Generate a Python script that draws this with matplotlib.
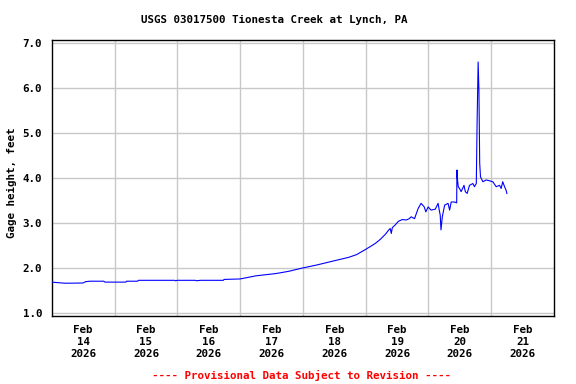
import matplotlib
matplotlib.use("Agg")
import matplotlib.pyplot as plt
import pandas as pd

# Gage height readings, hours after Feb 14 2026 00:00
hours = [0, 5.1, 11.9, 13.0, 14.6, 19.9, 20.3, 28.3, 28.6, 32.8, 33.2, 46.9, 47.3, 48.0,
         54.9, 55.3, 56.8, 65.6, 65.9, 72.0, 78.1, 85.7, 90.6, 95.6, 101.3, 107.0, 113.5,
         116.5, 119.5, 121.8, 123.7, 125.6, 127.5, 129.0, 129.4, 129.8, 130.2, 131.3, 132.5,
         134.0, 135.5, 136.7, 137.4, 138.7, 139.3, 140.1, 141.2, 142.4, 143.0, 143.9, 145.0,
         146.6, 147.7, 148.1, 148.5, 148.8, 149.3, 150.2, 151.5, 152.1, 152.7, 154.0, 154.8,
         154.9, 155.0, 155.4, 155.9, 156.5, 157.6, 158.1, 158.8, 159.7, 161.0, 161.6, 162.3,
         162.6, 163.0, 163.3, 163.6, 163.9, 164.8, 166.1, 167.4, 168.6, 169.9, 171.2, 171.8,
         172.4, 173.1, 173.7, 174.0]
gage_ft = [1.69, 1.665, 1.67, 1.70, 1.71, 1.71, 1.69, 1.69, 1.71, 1.71, 1.73, 1.73, 1.72, 1.73,
           1.73, 1.72, 1.73, 1.73, 1.75, 1.76, 1.83, 1.88, 1.93, 2.00, 2.07, 2.15, 2.24,
           2.30, 2.40, 2.48, 2.55, 2.64, 2.75, 2.86, 2.88, 2.77, 2.90, 2.96, 3.04,
           3.08, 3.07, 3.10, 3.14, 3.10, 3.20, 3.33, 3.44, 3.36, 3.25, 3.36, 3.29,
           3.31, 3.44, 3.30, 3.18, 2.85, 3.14, 3.40, 3.44, 3.29, 3.47, 3.47, 3.45,
           4.18, 4.03, 3.81, 3.77, 3.70, 3.84, 3.70, 3.66, 3.84, 3.88, 3.81, 3.88,
           5.21, 6.58, 5.95, 4.33, 4.03, 3.92, 3.96, 3.94, 3.92, 3.81, 3.84, 3.77,
           3.92, 3.81, 3.73, 3.66]

start = pd.Timestamp("2026-02-14")
times = start + pd.to_timedelta(hours, unit="h")

day_starts = pd.date_range("2026-02-14", "2026-02-22", freq="D")
day_labels = [f"{d:%b}\n{d.day}\n{d:%Y}" for d in day_starts[:-1]]
yticks = [1.0, 2.0, 3.0, 4.0, 5.0, 6.0, 7.0]

plt.rcParams["font.family"] = "DejaVu Sans Mono"
plt.rcParams["font.weight"] = "bold"

fig = plt.figure(figsize=(5.76, 3.84), dpi=100)
ax = fig.add_axes([0.0898, 0.178, 0.872, 0.718])

ax.plot(times, gage_ft, color="#0000ff", lw=0.8, zorder=3)

ax.set_xlim(day_starts[0], day_starts[-1])
ax.set_ylim(0.945, 7.07)

# gridlines at midnight, labels at noon
ax.set_xticks(day_starts[1:-1])
ax.set_xticklabels([])
ax.set_xticks(day_starts[:-1] + pd.Timedelta(hours=12), minor=True)
ax.set_xticklabels(day_labels, minor=True, fontsize=7.8, fontweight="bold")
ax.set_yticks(yticks)
ax.set_yticklabels([f"{v:.1f}" for v in yticks], fontsize=7.8, fontweight="bold")
ax.tick_params(which="both", length=0)
ax.tick_params(axis="x", which="minor", pad=7)
ax.tick_params(axis="y", pad=7)
ax.grid(True, which="major", color="#c8c8c8", lw=1.0)
ax.set_axisbelow(True)
for s in ax.spines.values():
    s.set_color("black")
    s.set_linewidth(1.0)

fig.text(274 / 576, 1 - 19.5 / 384, "USGS 03017500 Tionesta Creek at Lynch, PA",
         ha="center", va="center", fontsize=7.8, fontweight="bold")
fig.text(11.5 / 576, 1 - 183 / 384, "Gage height, feet", rotation=90,
         ha="center", va="center", fontsize=7.8, fontweight="bold")
fig.text(301 / 576, 1 - 375 / 384, "---- Provisional Data Subject to Revision ----",
         ha="center", va="center", fontsize=7.8, fontweight="bold", color="#ff0000")

plt.savefig("out.png", dpi=100)
